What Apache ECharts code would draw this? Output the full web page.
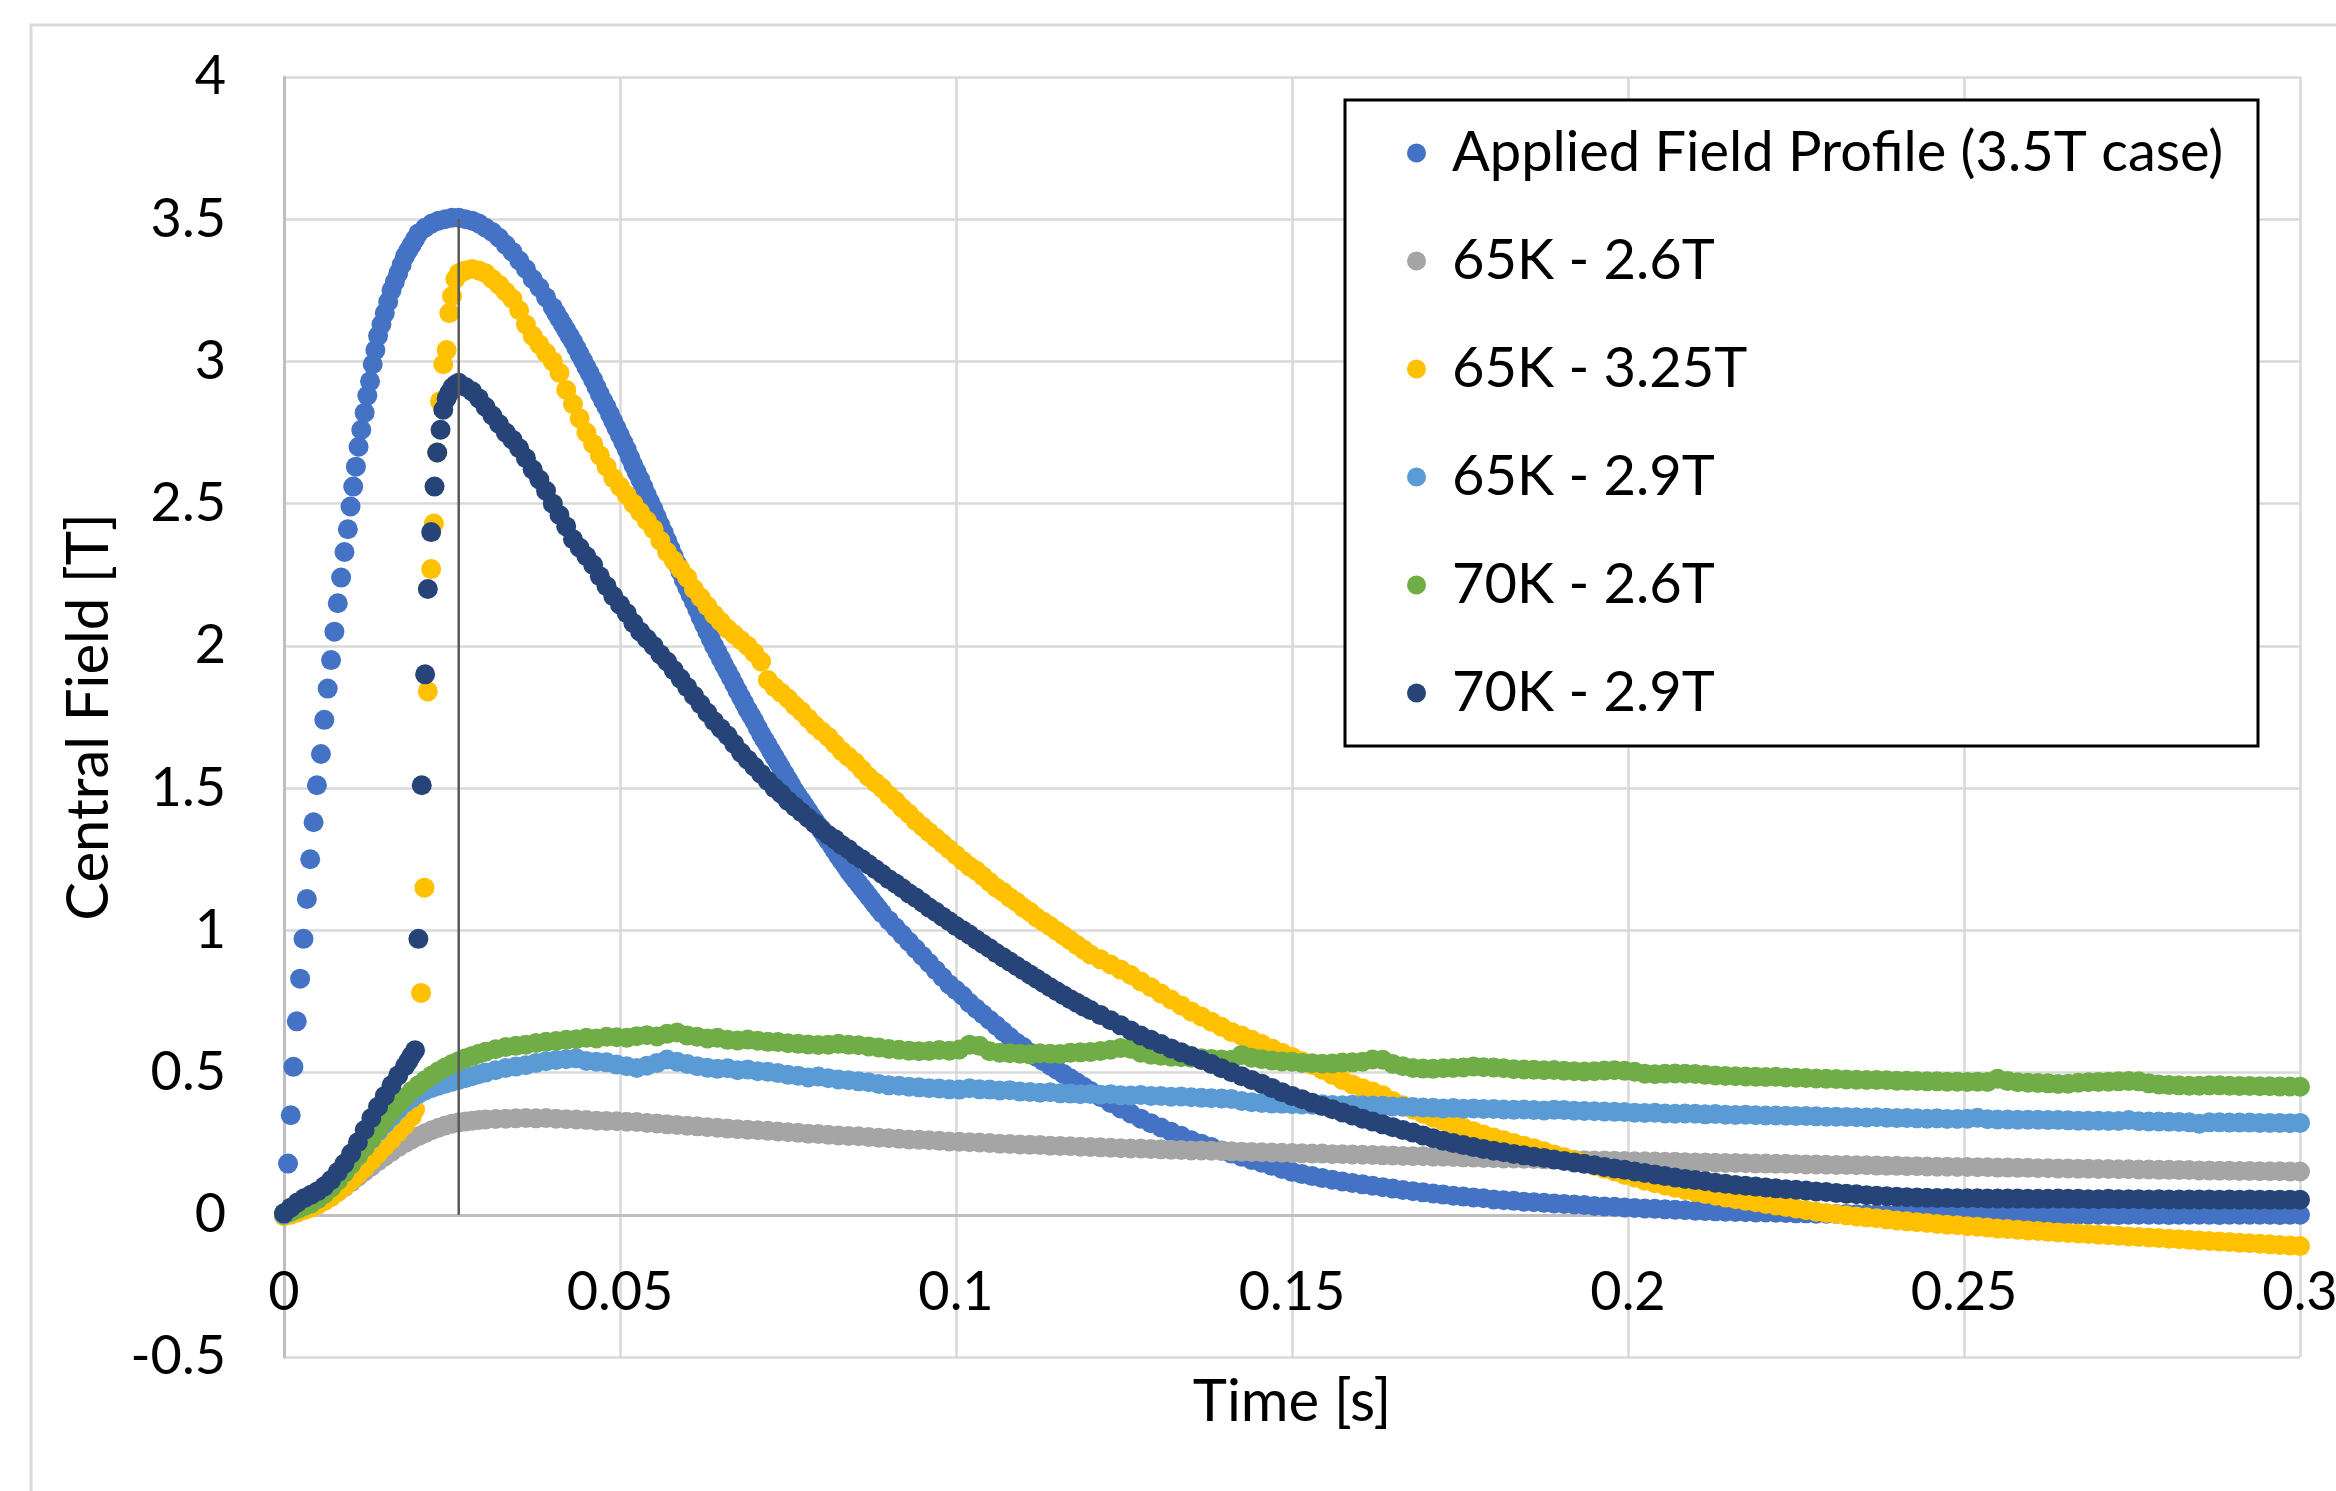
<!DOCTYPE html>
<html>
<head>
<meta charset="utf-8">
<title>Central Field vs Time</title>
<script src="https://cdn.jsdelivr.net/npm/echarts@6/dist/echarts.min.js"></script>
<style>
  html, body { margin: 0; padding: 0; background: #fff; }
  #chart { width: 2336px; height: 1491px; }
</style>
</head>
<body>
<div id="chart"></div>
<script>
// axis ticks
const xTicks = [0, 0.05, 0.1, 0.15, 0.2, 0.25, 0.3]
const yTicks = [-0.5, 0, 0.5, 1, 1.5, 2, 2.5, 3, 3.5, 4]

const seriesNames = ['Applied Field Profile (3.5T case)', '65K - 2.6T', '65K - 3.25T', '65K - 2.9T', '70K - 2.6T', '70K - 2.9T']

// sample times of the slow part of the records (s)
const tTail = [
  0.0300,0.0315,0.0330,0.0345,0.0360,0.0375,0.0390,0.0405,0.0420,0.0435,
  0.0450,0.0465,0.0480,0.0495,0.0510,0.0525,0.0540,0.0555,0.0570,0.0585,
  0.0600,0.0615,0.0630,0.0645,0.0660,0.0675,0.0690,0.0705,0.0720,0.0735,
  0.0750,0.0765,0.0780,0.0795,0.0810,0.0825,0.0840,0.0855,0.0870,0.0885,
  0.0900,0.0915,0.0930,0.0945,0.0960,0.0975,0.0990,0.1005,0.1020,0.1035,
  0.1050,0.1065,0.1080,0.1095,0.1110,0.1125,0.1140,0.1155,0.1170,0.1185,
  0.1200,0.1215,0.1230,0.1245,0.1260,0.1275,0.1290,0.1305,0.1320,0.1335,
  0.1350,0.1365,0.1380,0.1395,0.1410,0.1425,0.1440,0.1455,0.1470,0.1485,
  0.1500,0.1515,0.1530,0.1545,0.1560,0.1575,0.1590,0.1605,0.1620,0.1635,
  0.1650,0.1665,0.1680,0.1695,0.1710,0.1725,0.1740,0.1755,0.1770,0.1785,
  0.1800,0.1815,0.1830,0.1845,0.1860,0.1875,0.1890,0.1905,0.1920,0.1935,
  0.1950,0.1965,0.1980,0.1995,0.2010,0.2025,0.2040,0.2055,0.2070,0.2085,
  0.2100,0.2115,0.2130,0.2145,0.2160,0.2175,0.2190,0.2205,0.2220,0.2235,
  0.2250,0.2265,0.2280,0.2295,0.2310,0.2325,0.2340,0.2355,0.2370,0.2385,
  0.2400,0.2415,0.2430,0.2445,0.2460,0.2475,0.2490,0.2505,0.2520,0.2535,
  0.2550,0.2565,0.2580,0.2595,0.2610,0.2625,0.2640,0.2655,0.2670,0.2685,
  0.2700,0.2715,0.2730,0.2745,0.2760,0.2775,0.2790,0.2805,0.2820,0.2835,
  0.2850,0.2865,0.2880,0.2895,0.2910,0.2925,0.2940,0.2955,0.2970,0.2985,
  0.3000]

// Applied Field Profile: [time s, field T] up to 0.12 s, then values on the end of tTail
const appliedHead = [[0,0],[0.0006,0.18],[0.001,0.35],[0.0014,0.52],[0.0019,0.68],[0.0024,0.83],[0.0029,0.97],[0.0034,1.11],[0.0039,1.25],[0.0044,1.38],[0.0049,1.51],[0.0055,1.62],[0.0060,1.74],[0.0065,1.85],[0.0070,1.95],[0.0075,2.05],[0.0080,2.15],[0.0085,2.24],[0.0090,2.33],[0.0095,2.41],[0.0099,2.49],[0.0103,2.56],[0.0107,2.63],[0.0111,2.70],[0.0115,2.76],[0.0120,2.82],[0.0124,2.88],[0.0128,2.93],[0.0132,2.99],[0.0136,3.04],[0.0140,3.09],[0.0145,3.13],[0.0150,3.17],[0.0155,3.21],[0.0160,3.25],[0.0165,3.28],[0.0170,3.31],[0.0175,3.34],[0.0180,3.37],[0.0185,3.39],[0.0190,3.41],[0.0195,3.43],[0.0200,3.45],[0.021,3.47],[0.022,3.485],[0.023,3.495],[0.024,3.50],[0.025,3.505],[0.026,3.505],[0.027,3.50],[0.028,3.495],[0.029,3.485],[0.030,3.47],[0.031,3.455],[0.032,3.435],[0.033,3.41],[0.034,3.385],[0.035,3.355],[0.036,3.325],[0.037,3.29],[0.038,3.26],[0.039,3.225],[0.040,3.19],[0.0405,3.17],[0.041,3.15],[0.0415,3.13],[0.042,3.11],[0.0425,3.09],[0.043,3.07],[0.0435,3.048],[0.044,3.025],[0.0445,3.003],[0.045,2.98],[0.0455,2.958],[0.046,2.935],[0.0465,2.91],[0.047,2.885],[0.0475,2.862],[0.048,2.84],[0.0485,2.815],[0.049,2.79],[0.0495,2.765],[0.050,2.74],[0.0505,2.715],[0.051,2.69],[0.0515,2.662],[0.052,2.635],[0.0525,2.61],[0.053,2.585],[0.0535,2.558],[0.054,2.53],[0.0545,2.505],[0.055,2.48],[0.0555,2.452],[0.056,2.425],[0.0565,2.398],[0.057,2.37],[0.0575,2.342],[0.058,2.315],[0.0585,2.288],[0.059,2.26],[0.0595,2.232],[0.060,2.205],[0.0605,2.18],[0.061,2.155],[0.0615,2.128],[0.062,2.10],[0.0625,2.075],[0.063,2.05],[0.0635,2.025],[0.064,2.00],[0.0645,1.978],[0.065,1.955],[0.0655,1.932],[0.066,1.91],[0.0665,1.888],[0.067,1.865],[0.0675,1.842],[0.068,1.82],[0.0685,1.798],[0.069,1.775],[0.0695,1.755],[0.070,1.735],[0.0705,1.712],[0.071,1.69],[0.0715,1.67],[0.072,1.65],[0.0725,1.63],[0.073,1.61],[0.0735,1.59],[0.074,1.57],[0.0745,1.55],[0.075,1.53],[0.0755,1.51],[0.076,1.49],[0.0765,1.472],[0.077,1.455],[0.0775,1.438],[0.078,1.42],[0.0785,1.402],[0.079,1.385],[0.0795,1.368],[0.080,1.35],[0.0805,1.332],[0.081,1.315],[0.0815,1.298],[0.082,1.28],[0.0825,1.262],[0.083,1.245],[0.0835,1.228],[0.084,1.21],[0.0845,1.195],[0.085,1.18],[0.0855,1.165],[0.086,1.15],[0.0865,1.135],[0.087,1.12],[0.0875,1.105],[0.088,1.09],[0.0885,1.075],[0.089,1.06],[0.090,1.035],[0.091,1.01],[0.092,0.985],[0.093,0.96],[0.094,0.935],[0.095,0.91],[0.096,0.885],[0.097,0.86],[0.098,0.835],[0.099,0.81],[0.100,0.79],[0.101,0.77],[0.102,0.745],[0.103,0.725],[0.104,0.705],[0.105,0.685],[0.106,0.665],[0.107,0.645],[0.108,0.625],[0.109,0.605],[0.110,0.59],[0.111,0.57],[0.112,0.555],[0.113,0.54],[0.114,0.525],[0.115,0.51],[0.116,0.495],[0.117,0.48],[0.118,0.465],[0.119,0.45]]
const appliedTail = [
  0.435,0.414,0.393,0.374,0.356,0.338,0.322,0.307,0.292,0.278,
  0.262,0.250,0.238,0.226,0.215,0.204,0.193,0.183,0.172,0.161,
  0.151,0.143,0.136,0.129,0.123,0.117,0.112,0.107,0.102,0.097,
  0.092,0.087,0.083,0.079,0.075,0.071,0.067,0.064,0.061,0.058,
  0.054,0.051,0.049,0.046,0.044,0.042,0.040,0.038,0.036,0.034,
  0.031,0.029,0.028,0.026,0.024,0.022,0.021,0.019,0.018,0.016,
  0.014,0.013,0.012,0.011,0.010,0.009,0.008,0.008,0.007,0.006,
  0.005,0.005,0.004,0.004,0.003,0.003,0.002,0.002,0.002,0.001,
  0.001,0.001,0.000,0.000,0.000,0.000,0.000,-0.001,0.000,0.000,
  0.000,-0.001,0.000,0.000,0.000,0.000,-0.001,0.000,0.000,0.000,
  0.000,0.000,-0.001,0.000,0.000,0.000,0.000,-0.001,0.000,0.000,
  0.000,0.000,-0.001,0.000,0.000,0.000,0.000,0.000,-0.001,0.000,
  0.000]

// 65K - 2.6T
const gray65K26Head = [[0,0],[0.001,0.005],[0.002,0.012],[0.003,0.02],[0.004,0.028],[0.005,0.038],[0.006,0.05],[0.007,0.065],[0.008,0.08],[0.009,0.097],[0.010,0.115],[0.011,0.134],[0.012,0.152],[0.013,0.17],[0.014,0.188],[0.015,0.205],[0.016,0.222],[0.017,0.238],[0.018,0.252],[0.019,0.265],[0.020,0.276],[0.021,0.287],[0.022,0.297],[0.023,0.306],[0.024,0.314],[0.025,0.32],[0.026,0.325],[0.027,0.328],[0.028,0.331],[0.029,0.333]]
const gray65K26Tail = [
  0.335,0.337,0.338,0.339,0.340,0.339,0.340,0.338,0.336,0.335,
  0.333,0.331,0.330,0.329,0.327,0.326,0.323,0.321,0.318,0.316,
  0.313,0.311,0.308,0.306,0.303,0.301,0.299,0.297,0.295,0.293,
  0.290,0.288,0.285,0.284,0.281,0.279,0.277,0.276,0.273,0.271,
  0.269,0.267,0.265,0.264,0.262,0.260,0.258,0.257,0.255,0.254,
  0.252,0.250,0.249,0.247,0.246,0.245,0.243,0.242,0.241,0.239,
  0.238,0.237,0.236,0.234,0.233,0.233,0.231,0.230,0.229,0.228,
  0.226,0.226,0.225,0.224,0.223,0.222,0.221,0.220,0.219,0.218,
  0.217,0.216,0.215,0.215,0.213,0.213,0.212,0.211,0.210,0.209,
  0.208,0.207,0.206,0.206,0.204,0.204,0.203,0.202,0.201,0.200,
  0.199,0.198,0.198,0.197,0.196,0.195,0.195,0.194,0.193,0.192,
  0.191,0.191,0.190,0.189,0.188,0.188,0.187,0.186,0.186,0.185,
  0.184,0.184,0.183,0.182,0.182,0.181,0.180,0.180,0.179,0.179,
  0.178,0.177,0.177,0.176,0.175,0.175,0.174,0.174,0.173,0.172,
  0.172,0.171,0.171,0.170,0.169,0.169,0.168,0.168,0.167,0.167,
  0.166,0.166,0.165,0.165,0.164,0.164,0.163,0.163,0.162,0.162,
  0.161,0.161,0.160,0.160,0.159,0.159,0.158,0.158,0.157,0.157,
  0.156,0.156,0.155,0.155,0.154,0.154,0.153,0.153,0.153,0.152,
  0.152]

// 65K - 3.25T
const yellow65K325Head = [[0,-0.005],[0.001,0.0],[0.002,0.008],[0.003,0.016],[0.004,0.025],[0.005,0.035],[0.006,0.048],[0.007,0.062],[0.008,0.08],[0.009,0.1],[0.010,0.12],[0.011,0.142],[0.012,0.165],[0.013,0.19],[0.014,0.215],[0.015,0.24],[0.016,0.265],[0.017,0.29],[0.018,0.315],[0.019,0.345],[0.0195,0.37],[0.0204,0.78],[0.0209,1.15],[0.0214,1.84],[0.0219,2.27],[0.0223,2.43],[0.0228,2.68],[0.0232,2.86],[0.0237,2.99],[0.0242,3.04],[0.0246,3.17],[0.0250,3.23],[0.0255,3.29],[0.0260,3.31],[0.0265,3.315],[0.027,3.32],[0.028,3.325],[0.029,3.32],[0.030,3.31],[0.031,3.29],[0.032,3.27],[0.033,3.245],[0.034,3.22],[0.035,3.18],[0.036,3.13],[0.037,3.09],[0.038,3.06],[0.039,3.03],[0.040,3.0],[0.041,2.96],[0.042,2.9],[0.043,2.85],[0.044,2.8],[0.045,2.75],[0.046,2.71],[0.047,2.67],[0.048,2.63],[0.049,2.59],[0.050,2.56],[0.051,2.53],[0.052,2.5],[0.053,2.47],[0.054,2.44],[0.055,2.41],[0.056,2.37],[0.057,2.33],[0.058,2.3],[0.059,2.27],[0.060,2.24],[0.061,2.2],[0.062,2.17],[0.063,2.14],[0.064,2.11],[0.065,2.085],[0.066,2.06],[0.067,2.04],[0.068,2.02],[0.069,2.0],[0.070,1.975],[0.071,1.945],[0.072,1.88],[0.073,1.855],[0.074,1.835],[0.075,1.815],[0.076,1.79],[0.077,1.77],[0.078,1.745],[0.079,1.72],[0.080,1.70],[0.081,1.68],[0.082,1.655],[0.083,1.63],[0.084,1.61],[0.085,1.59],[0.086,1.565],[0.087,1.54],[0.088,1.52],[0.089,1.50],[0.090,1.475],[0.091,1.455],[0.092,1.43],[0.093,1.41],[0.094,1.385],[0.095,1.365],[0.096,1.345],[0.097,1.325],[0.098,1.305],[0.099,1.285],[0.100,1.265],[0.101,1.245],[0.102,1.225],[0.103,1.21],[0.104,1.19],[0.105,1.17],[0.106,1.15],[0.107,1.135],[0.108,1.115],[0.109,1.1],[0.110,1.08],[0.111,1.065],[0.112,1.045],[0.113,1.03],[0.114,1.015],[0.115,0.998],[0.116,0.982],[0.117,0.965],[0.118,0.948],[0.119,0.932]]
const yellow65K325Tail = [
  0.915,0.898,0.880,0.862,0.843,0.820,0.800,0.778,0.757,0.736,
  0.715,0.697,0.679,0.661,0.643,0.630,0.615,0.600,0.585,0.570,
  0.555,0.540,0.527,0.510,0.492,0.474,0.458,0.445,0.433,0.420,
  0.400,0.385,0.370,0.355,0.341,0.330,0.318,0.306,0.294,0.282,
  0.272,0.262,0.252,0.243,0.234,0.223,0.212,0.202,0.192,0.182,
  0.172,0.162,0.152,0.140,0.131,0.120,0.111,0.103,0.095,0.087,
  0.080,0.073,0.067,0.061,0.055,0.049,0.044,0.038,0.033,0.027,
  0.022,0.016,0.011,0.006,0.002,-0.002,-0.006,-0.009,-0.012,-0.016,
  -0.020,-0.023,-0.026,-0.029,-0.032,-0.035,-0.037,-0.040,-0.042,-0.045,
  -0.048,-0.050,-0.053,-0.055,-0.057,-0.060,-0.062,-0.064,-0.066,-0.068,
  -0.070,-0.072,-0.074,-0.076,-0.078,-0.080,-0.082,-0.084,-0.086,-0.088,
  -0.090,-0.092,-0.094,-0.096,-0.098,-0.100,-0.102,-0.104,-0.106,-0.108,
  -0.110]

// 65K - 2.9T
const blue65K29Head = [[0,0],[0.001,0.01],[0.002,0.022],[0.003,0.035],[0.004,0.05],[0.005,0.068],[0.006,0.088],[0.007,0.11],[0.008,0.133],[0.009,0.157],[0.010,0.183],[0.011,0.21],[0.012,0.238],[0.013,0.266],[0.014,0.294],[0.015,0.32],[0.016,0.345],[0.017,0.37],[0.018,0.393],[0.019,0.41],[0.020,0.425],[0.021,0.437],[0.022,0.446],[0.023,0.454],[0.024,0.461],[0.025,0.468],[0.026,0.474],[0.027,0.48],[0.028,0.487],[0.029,0.494]]
const blue65K29Tail = [
  0.500,0.508,0.516,0.521,0.526,0.534,0.540,0.544,0.547,0.550,
  0.541,0.538,0.536,0.528,0.522,0.516,0.524,0.534,0.546,0.538,
  0.530,0.522,0.517,0.513,0.515,0.508,0.511,0.505,0.503,0.498,
  0.492,0.489,0.483,0.486,0.480,0.476,0.473,0.469,0.466,0.460,
  0.455,0.454,0.450,0.448,0.445,0.444,0.441,0.440,0.445,0.441,
  0.440,0.437,0.438,0.433,0.432,0.429,0.431,0.427,0.426,0.424,
  0.425,0.422,0.424,0.420,0.419,0.421,0.418,0.418,0.415,0.416,
  0.413,0.411,0.410,0.409,0.407,0.400,0.396,0.393,0.391,0.390,
  0.389,0.388,0.387,0.389,0.386,0.385,0.387,0.385,0.384,0.383,
  0.381,0.380,0.379,0.377,0.376,0.374,0.375,0.373,0.374,0.372,
  0.372,0.370,0.369,0.370,0.368,0.367,0.369,0.368,0.366,0.365,
  0.364,0.363,0.362,0.361,0.359,0.358,0.359,0.356,0.355,0.356,
  0.355,0.353,0.354,0.352,0.351,0.352,0.350,0.349,0.349,0.348,
  0.347,0.347,0.346,0.345,0.345,0.344,0.343,0.342,0.343,0.341,
  0.340,0.340,0.339,0.338,0.339,0.337,0.337,0.338,0.341,0.336,
  0.335,0.335,0.334,0.334,0.334,0.333,0.333,0.332,0.331,0.331,
  0.331,0.330,0.330,0.333,0.329,0.328,0.328,0.327,0.326,0.325,
  0.320,0.325,0.325,0.324,0.324,0.324,0.323,0.323,0.323,0.322,
  0.323]

// 70K - 2.6T
const green70K26Head = [[0,0.005],[0.001,0.012],[0.002,0.02],[0.003,0.03],[0.004,0.04],[0.005,0.055],[0.006,0.073],[0.007,0.095],[0.008,0.12],[0.009,0.148],[0.010,0.177],[0.011,0.207],[0.012,0.238],[0.013,0.27],[0.014,0.302],[0.015,0.333],[0.016,0.362],[0.017,0.39],[0.018,0.413],[0.019,0.435],[0.020,0.455],[0.021,0.473],[0.022,0.49],[0.023,0.505],[0.024,0.518],[0.025,0.53],[0.026,0.54],[0.027,0.55],[0.028,0.558],[0.029,0.566]]
const green70K26Tail = [
  0.573,0.582,0.590,0.594,0.598,0.604,0.608,0.611,0.615,0.617,
  0.622,0.620,0.626,0.624,0.622,0.628,0.631,0.627,0.636,0.641,
  0.630,0.626,0.620,0.622,0.615,0.613,0.616,0.612,0.608,0.607,
  0.603,0.601,0.599,0.597,0.598,0.601,0.598,0.596,0.592,0.588,
  0.583,0.580,0.577,0.575,0.576,0.579,0.577,0.581,0.598,0.594,
  0.575,0.570,0.568,0.566,0.564,0.568,0.566,0.565,0.570,0.571,
  0.572,0.576,0.580,0.586,0.584,0.570,0.563,0.559,0.556,0.554,
  0.552,0.550,0.548,0.546,0.545,0.562,0.552,0.547,0.542,0.539,
  0.538,0.534,0.533,0.531,0.532,0.535,0.536,0.538,0.546,0.545,
  0.530,0.522,0.516,0.514,0.513,0.515,0.516,0.518,0.521,0.519,
  0.518,0.515,0.512,0.511,0.510,0.508,0.509,0.506,0.505,0.504,
  0.505,0.507,0.508,0.506,0.503,0.496,0.494,0.496,0.497,0.496,
  0.495,0.492,0.490,0.488,0.487,0.486,0.485,0.484,0.485,0.483,
  0.482,0.481,0.479,0.478,0.477,0.476,0.475,0.474,0.474,0.473,
  0.471,0.471,0.470,0.469,0.469,0.468,0.468,0.467,0.468,0.467,
  0.478,0.470,0.466,0.464,0.463,0.462,0.460,0.461,0.464,0.466,
  0.467,0.468,0.469,0.470,0.469,0.462,0.458,0.456,0.455,0.454,
  0.454,0.455,0.455,0.454,0.453,0.453,0.452,0.452,0.451,0.451,
  0.450]

// 70K - 2.9T
const navy70K29Head = [[0,0.005],[0.001,0.025],[0.002,0.043],[0.003,0.058],[0.004,0.07],[0.005,0.083],[0.006,0.1],[0.007,0.122],[0.008,0.15],[0.009,0.18],[0.010,0.215],[0.011,0.255],[0.012,0.298],[0.013,0.34],[0.014,0.38],[0.015,0.418],[0.016,0.455],[0.017,0.49],[0.018,0.522],[0.0185,0.54],[0.019,0.56],[0.0195,0.578],[0.0200,0.97],[0.0205,1.51],[0.0210,1.90],[0.0214,2.20],[0.0219,2.40],[0.0224,2.56],[0.0228,2.68],[0.0233,2.76],[0.0237,2.83],[0.0242,2.87],[0.0246,2.89],[0.0251,2.91],[0.0256,2.92],[0.026,2.925],[0.027,2.91],[0.028,2.895],[0.029,2.87],[0.030,2.84],[0.031,2.81],[0.032,2.78],[0.033,2.75],[0.034,2.725],[0.035,2.695],[0.036,2.66],[0.037,2.62],[0.038,2.585],[0.039,2.545],[0.040,2.5],[0.041,2.46],[0.042,2.42],[0.043,2.375],[0.044,2.345],[0.045,2.315],[0.046,2.285],[0.047,2.245],[0.048,2.21],[0.049,2.175],[0.050,2.145],[0.051,2.115],[0.052,2.08],[0.053,2.05],[0.054,2.025],[0.055,2.0],[0.056,1.97],[0.057,1.945],[0.058,1.915],[0.059,1.885],[0.060,1.855],[0.061,1.825],[0.062,1.795],[0.063,1.765],[0.064,1.735],[0.065,1.71],[0.066,1.685],[0.067,1.655],[0.068,1.625],[0.069,1.6],[0.070,1.575],[0.071,1.55],[0.072,1.525],[0.073,1.50],[0.074,1.48],[0.075,1.455],[0.076,1.435],[0.077,1.415],[0.078,1.395],[0.079,1.375],[0.080,1.355],[0.081,1.335],[0.082,1.32],[0.083,1.30],[0.084,1.285],[0.085,1.265],[0.086,1.25],[0.087,1.232],[0.088,1.215],[0.089,1.198],[0.090,1.18],[0.091,1.165],[0.092,1.148],[0.093,1.13],[0.094,1.115],[0.095,1.098],[0.096,1.08],[0.097,1.065],[0.098,1.048],[0.099,1.032],[0.100,1.015],[0.101,1.0],[0.102,0.985],[0.103,0.968],[0.104,0.952],[0.105,0.937],[0.106,0.92],[0.107,0.905],[0.108,0.89],[0.109,0.875],[0.110,0.86],[0.111,0.845],[0.112,0.83],[0.113,0.815],[0.114,0.80],[0.115,0.786],[0.116,0.772],[0.117,0.758],[0.118,0.745],[0.119,0.732]]
const navy70K29Tail = [
  0.720,0.702,0.684,0.666,0.648,0.630,0.615,0.600,0.585,0.571,
  0.558,0.544,0.530,0.515,0.501,0.487,0.474,0.461,0.446,0.431,
  0.418,0.406,0.394,0.382,0.371,0.360,0.349,0.338,0.328,0.318,
  0.308,0.298,0.289,0.279,0.269,0.260,0.252,0.245,0.238,0.231,
  0.225,0.220,0.214,0.209,0.204,0.200,0.194,0.189,0.184,0.179,
  0.174,0.168,0.163,0.158,0.152,0.147,0.142,0.136,0.131,0.126,
  0.122,0.118,0.113,0.109,0.105,0.102,0.099,0.096,0.093,0.090,
  0.088,0.085,0.082,0.080,0.077,0.074,0.072,0.069,0.067,0.065,
  0.063,0.062,0.061,0.060,0.059,0.059,0.058,0.058,0.058,0.057,
  0.057,0.057,0.057,0.056,0.056,0.056,0.057,0.056,0.056,0.055,
  0.055,0.056,0.055,0.055,0.055,0.054,0.055,0.054,0.054,0.054,
  0.054,0.054,0.053,0.054,0.053,0.054,0.053,0.053,0.053,0.053,
  0.053]

// thin marker line at the applied-field peak
const peakLine = [[0.026, 0], [0.026, 3.5]]

// tail values belong to the last samples of tTail
function withTail (head, tail) {
  let offset = tTail.length - tail.length
  return head.concat(tail.map((v, i) => [tTail[offset + i], v]))
}

const seriesData = [
  withTail(appliedHead, appliedTail),
  withTail(gray65K26Head, gray65K26Tail),
  withTail(yellow65K325Head, yellow65K325Tail),
  withTail(blue65K29Head, blue65K29Tail),
  withTail(green70K26Head, green70K26Tail),
  withTail(navy70K29Head, navy70K29Tail)
]
const seriesColors = ['#4472C4', '#A5A5A5', '#FFC000', '#5B9BD5', '#70AD47', '#264478']

const font = 'Lato'
const chart = echarts.init(document.getElementById('chart'))

let series = seriesData.map((d, i) => ({
  name: seriesNames[i],
  type: 'scatter',
  data: d,
  symbol: 'circle',
  symbolSize: 20,
  itemStyle: { color: seriesColors[i], opacity: 1 },
  emphasis: { disabled: true }
}))
series.push({
  type: 'line',
  data: peakLine,
  symbol: 'none',
  silent: true,
  lineStyle: { color: '#595959', width: 2.5 },
  z: 6
})

chart.setOption({
  animation: false,
  backgroundColor: '#fff',
  textStyle: { fontFamily: font },
  grid: { left: 284, top: 77, right: 36, bottom: 134, containLabel: false, outerBoundsMode: 'none' },
  xAxis: {
    type: 'value',
    min: xTicks[0],
    max: xTicks[xTicks.length - 1],
    interval: xTicks[1] - xTicks[0],
    name: 'Time [s]',
    nameLocation: 'middle',
    nameGap: 16,
    nameTextStyle: { fontSize: 58, color: '#000', fontFamily: font },
    axisLine: { onZero: true, lineStyle: { color: '#bfbfbf', width: 3 } },
    axisTick: { show: false },
    // labels sit just under the zero line, as in the source chart
    axisLabel: { fontSize: 54, color: '#000', margin: -91, fontFamily: font },
    splitLine: { lineStyle: { color: '#d9d9d9', width: 2.5 } }
  },
  yAxis: {
    type: 'value',
    min: yTicks[0],
    max: yTicks[yTicks.length - 1],
    interval: yTicks[1] - yTicks[0],
    name: 'Central Field [T]',
    nameLocation: 'middle',
    nameGap: 166,
    nameTextStyle: { fontSize: 58, color: '#000', fontFamily: font },
    axisLine: { show: true, onZero: false, lineStyle: { color: '#bfbfbf', width: 3 } },
    axisTick: { show: false },
    axisLabel: { fontSize: 54, color: '#000', margin: 58, fontFamily: font },
    splitLine: { lineStyle: { color: '#d9d9d9', width: 2.5 } }
  },
  legend: {
    data: seriesNames,
    orient: 'vertical',
    left: 1407,
    top: 123,
    padding: 0,
    itemWidth: 19,
    itemHeight: 19,
    itemGap: 48,
    icon: 'circle',
    selectedMode: false,
    textStyle: { fontSize: 56, color: '#000', lineHeight: 60, padding: [0, 0, 0, 21], fontFamily: font },
    z: 10
  },
  graphic: [
    {
      type: 'rect',
      silent: true,
      z: 0,
      shape: { x: 31, y: 25, width: 2400, height: 1600 },
      style: { fill: 'none', stroke: '#d9d9d9', lineWidth: 3 }
    },
    {
      type: 'rect',
      silent: true,
      z: 8,
      shape: { x: 1345, y: 100, width: 913, height: 646 },
      style: { fill: '#fff', stroke: '#000', lineWidth: 3 }
    }
  ],
  series: series
})
</script>
</body>
</html>
